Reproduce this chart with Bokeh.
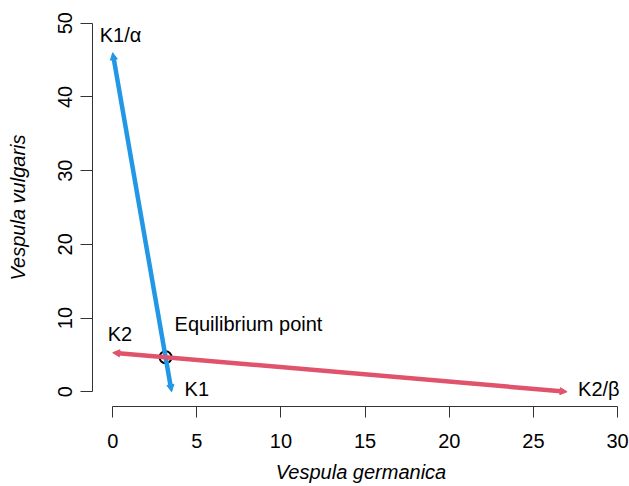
from bokeh.plotting import figure
from bokeh.models import Arrow, NormalHead, Label, FixedTicker, Range1d, ColumnDataSource
from bokeh.embed import file_html
from bokeh.resources import INLINE

# ---- data ----
# isocline of Vespula germanica (K1 line): from (0, K1/alpha) to (K1, 0)
blue_x = [0.0, 3.5]
blue_y = [46.0, 0.0]
# isocline of Vespula vulgaris (K2 line): from (0, K2) to (K2/beta, 0)
red_x = [0.0, 27.0]
red_y = [5.3, 0.0]
# equilibrium point
eq_x = [3.14]
eq_y = [4.68]

x_ticks = [0, 5, 10, 15, 20, 25, 30]
y_ticks = [0, 10, 20, 30, 40, 50]
x_title = "Vespula germanica"
y_title = "Vespula vulgaris"
label_texts = ["K1/α", "K2", "K1", "K2/β", "Equilibrium point"]

BLUE = "#2297E6"
RED = "#DF536B"
FONT = "Liberation Sans"
FS = "20px"

p = figure(width=629, height=486,
           x_range=Range1d(-1.2, 30.71), y_range=Range1d(-2, 52),
           output_backend="svg", toolbar_location=None,
           min_border_left=92, min_border_right=0,
           min_border_top=8, min_border_bottom=80)
p.xgrid.visible = False
p.ygrid.visible = False
p.outline_line_color = None
p.background_fill_color = "white"
p.border_fill_color = "white"

for ax, ticks, bnd in ((p.xaxis, x_ticks, (0, 30)), (p.yaxis, y_ticks, (0, 50))):
    ax.ticker = FixedTicker(ticks=ticks, minor_ticks=[])
    ax.bounds = bnd
    ax.axis_line_color = "#333333"
    ax.major_tick_line_color = "#333333"
    ax.axis_line_width = 1
    ax.major_tick_line_width = 1
    ax.major_tick_in = 0
    ax.minor_tick_out = 0
    ax.minor_tick_in = 0
    ax.major_label_text_font = FONT
    ax.major_label_text_font_size = FS
    ax.major_label_text_color = "black"
    ax.axis_label_text_font = FONT
    ax.axis_label_text_font_size = FS
    ax.axis_label_text_font_style = "italic"
    ax.axis_label_text_color = "black"

p.xaxis.major_tick_out = 11
p.xaxis.major_label_standoff = 16
p.xaxis.axis_label = x_title
p.xaxis.axis_label_standoff = 10
p.yaxis.major_tick_out = 12
p.yaxis.major_label_standoff = 8
p.yaxis.major_label_orientation = "vertical"
p.yaxis.axis_label = y_title
p.yaxis.axis_label_standoff = 27

# lines with arrowheads at both ends
src = ColumnDataSource(dict(
    x0=[blue_x[0], red_x[0]], y0=[blue_y[0], red_y[0]],
    x1=[blue_x[1], red_x[1]], y1=[blue_y[1], red_y[1]],
))
for i, c in ((0, BLUE), (1, RED)):
    a = Arrow(x_start=src.data["x0"][i], y_start=src.data["y0"][i],
              x_end=src.data["x1"][i], y_end=src.data["y1"][i],
              line_color=c, line_width=4.5,
              start=NormalHead(size=7, fill_color=c, line_color=c, line_width=1),
              end=NormalHead(size=7, fill_color=c, line_color=c, line_width=1))
    p.add_layout(a)

p.scatter(eq_x, eq_y, marker="circle", size=12, fill_color=None,
          line_color="black", line_width=2)

anchors = [(blue_x[0], blue_y[0], -13, 18),
           (red_x[0], red_y[0], -5, 19),
           (blue_x[1], blue_y[1], 13, 3),
           (red_x[1], red_y[1], 11, 3),
           (eq_x[0], eq_y[0], 9, 33)]
for t, (ax_, ay_, dx, dy) in zip(label_texts, anchors):
    p.add_layout(Label(x=ax_, y=ay_, x_offset=dx, y_offset=dy, text=t,
                       text_font=FONT, text_font_size=FS, text_color="black",
                       text_align="left", text_baseline="alphabetic"))

open("out.html", "w").write(file_html(p, INLINE))
